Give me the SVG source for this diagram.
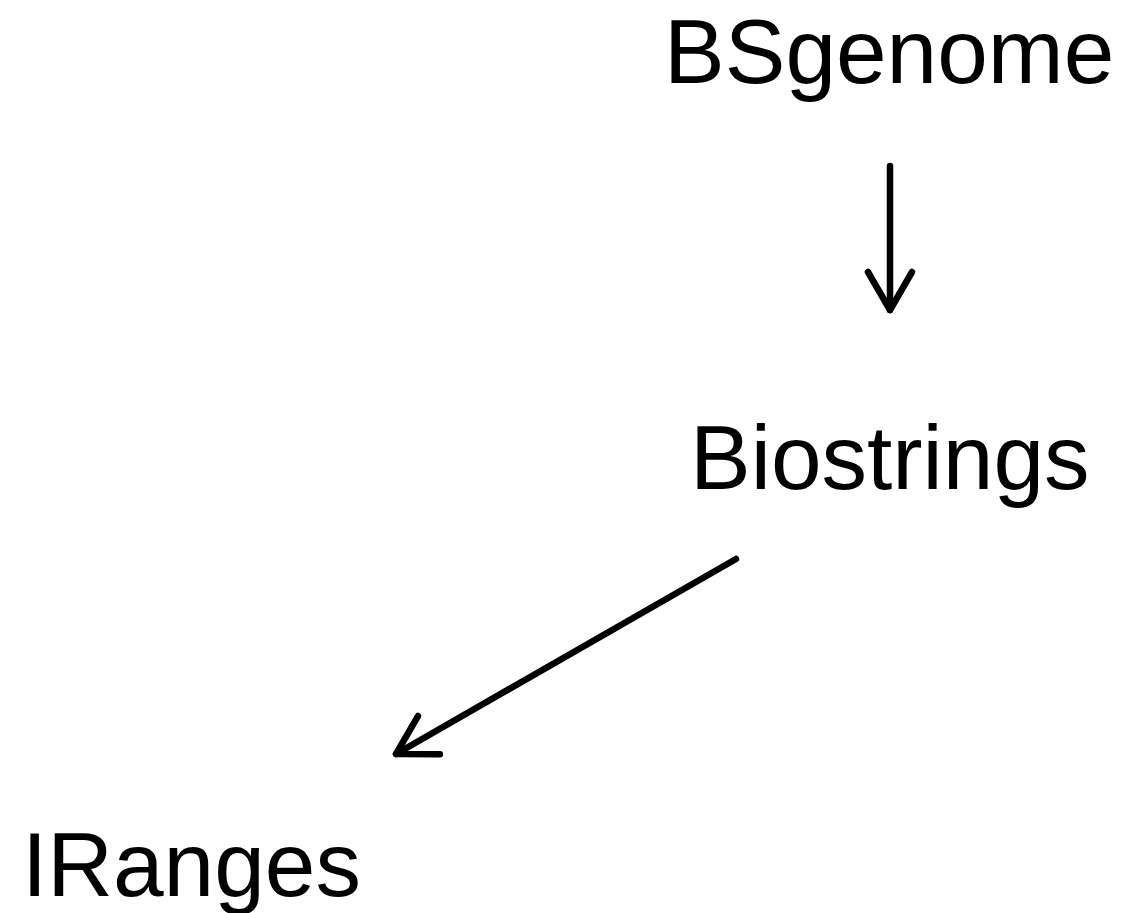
<svg xmlns="http://www.w3.org/2000/svg" width="1124" height="913" viewBox="0 0 1124 913">
  <style>
    .label { font-family: "Liberation Sans", Arial, sans-serif; font-size: 91px; fill: #000; }
    .edge { fill: none; stroke: #000; stroke-width: 6.5; stroke-linecap: round; stroke-linejoin: round; }
  </style>
  <defs>
    <!-- open V arrowhead, 30 degree half-angle -->
    <marker id="head" markerUnits="userSpaceOnUse" markerWidth="60" markerHeight="60" viewBox="-50 -30 60 60" refX="0" refY="0" orient="auto" overflow="visible">
      <path d="M -38 -22 L 0 0 L -38 22" fill="none" stroke="#000" stroke-width="6.5" stroke-linecap="round" stroke-linejoin="round"/>
    </marker>
  </defs>
  <rect width="1124" height="913" fill="#fff"/>
  <g id="edges">
    <path class="edge" d="M 890 166 L 890 310" marker-end="url(#head)"/>
    <path class="edge" d="M 736 559 L 396 754" marker-end="url(#head)"/>
  </g>
  <g id="node-BSgenome"><text class="label" x="664" y="83">BSgenome</text></g>
  <g id="node-Biostrings"><text class="label" x="690" y="489">Biostrings</text></g>
  <g id="node-IRanges"><text class="label" x="22" y="896">IRanges</text></g>
</svg>
